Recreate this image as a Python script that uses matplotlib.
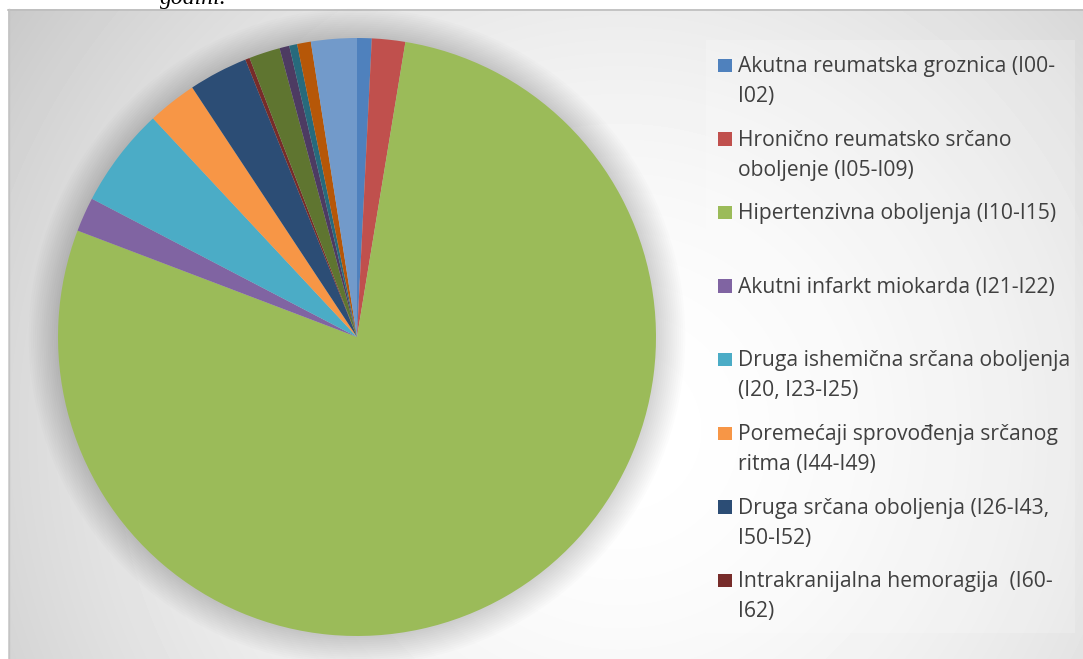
import numpy as np
from matplotlib import pyplot as plt
from matplotlib.patches import Rectangle, Circle

# udeo (%) po grupama bolesti, u smeru kazaljke od 12 sati
labels = ['Akutna reumatska groznica (I00-\nI02)',
          'Hronično reumatsko srčano\noboljenje (I05-I09)',
          'Hipertenzivna oboljenja (I10-I15)',
          'Akutni infarkt miokarda (I21-I22)',
          'Druga ishemična srčana oboljenja\n(I20, I23-I25)',
          'Poremećaji sprovođenja srčanog\nritma (I44-I49)',
          'Druga srčana oboljenja (I26-I43,\nI50-I52)',
          'Intrakranijalna hemoragija  (I60-\nI62)',
          'Cerebralni infarkt (I63)',
          'Moždani udar (I64)',
          'Druga cerebrovaskularna oboljenja (I65-I69)',
          'Ateroskleroza (I70)',
          'Ostala oboljenja sistema krvotoka']
values = [0.79, 1.80, 78.20, 1.86, 5.40, 2.66, 3.20, 0.24, 1.68, 0.53, 0.43, 0.74, 2.47]
colors = ['#4F81BD', '#C0504D', '#9BBB59', '#8064A2', '#4BACC6', '#F79646',
          '#2C4D75', '#772C2A', '#5F7530', '#4D3B62', '#276A7C', '#B65708', '#729ACA']
n_legend = 8  # vidljivo samo prvih 8 stavki legende

W, H = 1083, 659
fig = plt.figure(figsize=(W / 100, H / 100), dpi=100)
fig.patch.set_facecolor('white')

# pozadina u pikselima
bg = fig.add_axes([0, 0, 1, 1])
bg.set_xlim(0, W)
bg.set_ylim(H, 0)
bg.axis('off')

yy, xx = np.mgrid[9:H, 8:W]
d = np.hypot(xx - 620, yy - 430) / 760.0
v = 1 - 0.22 * np.clip(d, 0, 1) ** 1.8
bg.imshow(v, cmap='gray', vmin=0, vmax=1, extent=(8, W, H, 9), aspect='auto',
          interpolation='bilinear', zorder=0)
bg.plot([8, W], [9.5, 9.5], color='#bdbdbd', lw=1.2, zorder=1)
bg.plot([8.5, 8.5], [9, H], color='#c4c4c4', lw=1, zorder=1)
bg.set_xlim(0, W)
bg.set_ylim(H, 0)

bg.text(160, 4, 'godini.', fontsize=17, style='italic', family='Liberation Serif',
        va='baseline', color='black')

# okvir legende
bg.add_patch(Rectangle((706, 40), 369, 593, facecolor='white', alpha=0.2, lw=0, zorder=1))

step = 73.6
for i in range(n_legend):
    base = 72 + i * step
    bg.add_patch(Rectangle((718, base - 13.5), 13.5, 13.5, facecolor=colors[i], lw=0, zorder=2))
    for j, line in enumerate(labels[i].split('\n')):
        bg.text(738, base + j * 30, line, fontsize=15.2, family='Open Sans',
                color='#404040', va='baseline', ha='left', zorder=3)

# pita
cx, cy, r = 357, 337, 299
ax = fig.add_axes([(cx - r) / W, (H - cy - r) / H, 2 * r / W, 2 * r / H])
ax.patch.set_alpha(0)
for k in range(14):
    ax.add_patch(Circle((0, 0), 1 + 0.007 * (k + 1), color='black', alpha=0.011, lw=0, zorder=0))
ax.pie(values, colors=colors, startangle=90, counterclock=False, radius=1,
       wedgeprops=dict(linewidth=0))
ax.set_xlim(-1.1, 1.1)
ax.set_ylim(-1.1, 1.1)
ax.set_position([(cx - 1.1 * r) / W, (H - cy - 1.1 * r) / H, 2.2 * r / W, 2.2 * r / H])
ax.axis('off')

fig.savefig('out.png', dpi=100)
